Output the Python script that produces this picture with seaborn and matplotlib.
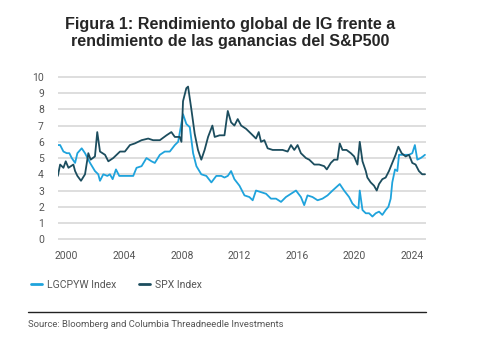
import matplotlib
matplotlib.use("Agg")
import matplotlib.pyplot as plt
import seaborn as sns
import pandas as pd
from matplotlib.lines import Line2D

spx_years = [1999.38, 1999.54, 1999.77, 1999.93, 2000.12, 2000.46, 2000.58, 2000.74, 2000.99, 2001.27,
             2001.50, 2001.66, 2001.96, 2002.12, 2002.31, 2002.66, 2002.89, 2003.23, 2003.70, 2004.04,
             2004.39, 2004.73, 2005.20, 2005.66, 2006.00, 2006.47, 2006.93, 2007.27, 2007.51, 2007.85,
             2007.97, 2008.08, 2008.31, 2008.43, 2008.66, 2008.89, 2009.12, 2009.35, 2009.58, 2009.82,
             2010.12, 2010.28, 2010.62, 2010.96, 2011.19, 2011.42, 2011.65, 2011.88, 2012.12, 2012.46,
             2012.81, 2013.15, 2013.34, 2013.50, 2013.73, 2013.96, 2014.31, 2014.66, 2015.00, 2015.35,
             2015.58, 2015.81, 2016.04, 2016.27, 2016.62, 2016.85, 2017.20, 2017.54, 2017.89, 2018.07,
             2018.35, 2018.58, 2018.81, 2018.97, 2019.16, 2019.44, 2019.74, 2019.97, 2020.20, 2020.36,
             2020.55, 2020.78, 2020.89, 2021.12, 2021.35, 2021.54, 2021.70, 2021.93, 2022.16, 2022.39,
             2022.62, 2022.85, 2023.04, 2023.27, 2023.55, 2023.78, 2024.01, 2024.24, 2024.47, 2024.70,
             2024.89]
spx_values = [3.9, 4.6, 4.4, 4.8, 4.4, 4.6, 4.2, 3.9, 3.6, 4.0,
              5.3, 4.9, 5.1, 6.6, 5.4, 5.2, 4.8, 5.0, 5.4, 5.4,
              5.8, 5.9, 6.1, 6.2, 6.1, 6.1, 6.4, 6.6, 6.3, 6.3,
              6.0, 8.5, 9.3, 9.4, 8.0, 6.5, 5.5, 4.9, 5.5, 6.3,
              7.0, 6.3, 6.4, 6.4, 7.9, 7.2, 7.0, 7.4, 7.0, 6.8,
              6.5, 6.2, 6.6, 6.0, 6.1, 5.6, 5.5, 5.5, 5.5, 5.4,
              5.8, 5.5, 5.8, 5.3, 5.0, 4.9, 4.6, 4.6, 4.5, 4.3,
              4.7, 4.9, 4.9, 5.9, 5.5, 5.5, 5.3, 5.1, 4.6, 6.0,
              4.8, 4.2, 3.8, 3.5, 3.3, 3.0, 3.4, 3.7, 3.8, 4.2,
              4.7, 5.2, 5.7, 5.3, 5.1, 5.2, 4.7, 4.6, 4.2, 4.0,
              4.0]

ig_years = [1999.38, 1999.54, 1999.77, 2000.00, 2000.18, 2000.35, 2000.58, 2000.74, 2001.04, 2001.27,
            2001.62, 2001.96, 2002.19, 2002.31, 2002.54, 2002.82, 2003.00, 2003.19, 2003.42, 2003.65,
            2004.04, 2004.39, 2004.62, 2004.85, 2005.20, 2005.54, 2005.89, 2006.12, 2006.47, 2006.81,
            2007.16, 2007.51, 2007.74, 2008.08, 2008.31, 2008.55, 2008.78, 2009.01, 2009.35, 2009.70,
            2010.05, 2010.39, 2010.74, 2010.96, 2011.19, 2011.42, 2011.65, 2012.00, 2012.35, 2012.69,
            2012.92, 2013.15, 2013.50, 2013.85, 2014.19, 2014.54, 2014.89, 2015.23, 2015.58, 2015.93,
            2016.27, 2016.50, 2016.73, 2017.08, 2017.43, 2017.77, 2018.12, 2018.47, 2018.97, 2019.27,
            2019.62, 2019.85, 2020.08, 2020.27, 2020.36, 2020.55, 2020.78, 2021.01, 2021.24, 2021.47,
            2021.70, 2021.93, 2022.16, 2022.35, 2022.51, 2022.62, 2022.81, 2022.97, 2023.09, 2023.32,
            2023.55, 2023.78, 2024.01, 2024.19, 2024.36, 2024.59, 2024.75, 2024.89]
ig_values = [5.8, 5.8, 5.4, 5.3, 5.3, 5.0, 4.7, 5.3, 5.6, 5.3,
             4.7, 4.2, 4.0, 3.6, 4.0, 3.9, 4.0, 3.7, 4.3, 3.9,
             3.9, 3.9, 3.9, 4.4, 4.5, 5.0, 4.8, 4.7, 5.2, 5.4,
             5.4, 5.8, 6.0, 7.7, 7.1, 6.9, 5.3, 4.5, 4.0, 3.9,
             3.5, 3.9, 3.9, 3.8, 3.9, 4.2, 3.7, 3.3, 2.7, 2.6,
             2.4, 3.0, 2.9, 2.8, 2.5, 2.5, 2.3, 2.6, 2.8, 3.0,
             2.6, 2.1, 2.7, 2.6, 2.4, 2.5, 2.7, 3.0, 3.4, 3.0,
             2.6, 2.2, 2.0, 1.9, 3.0, 1.8, 1.6, 1.6, 1.4, 1.6,
             1.7, 1.5, 1.8, 2.0, 2.5, 3.5, 4.3, 4.2, 5.2, 5.2,
             5.2, 5.2, 5.3, 5.8, 4.9, 5.0, 5.1, 5.2]

series_names = ["LGCPYW Index", "SPX Index"]
x_ticks = [2000, 2004, 2008, 2012, 2016, 2020, 2024]
y_ticks = list(range(0, 11))

title = "Figura 1: Rendimiento global de IG frente a\nrendimiento de las ganancias del S&P500"
source = "Source: Bloomberg and Columbia Threadneedle Investments"

light = "#1fa3dc"
dark = "#1c4d5e"

df = pd.concat([
    pd.DataFrame({"year": ig_years, "value": ig_values, "series": series_names[0]}),
    pd.DataFrame({"year": spx_years, "value": spx_values, "series": series_names[1]}),
])

sns.set_style("white")
plt.rcParams["font.family"] = ["Roboto", "DejaVu Sans"]

fig = plt.figure(figsize=(4.9, 3.41), dpi=100)
ax = fig.add_axes([0.118, 0.296, 0.751, 0.481])

sns.lineplot(data=df, x="year", y="value", hue="series",
             palette={series_names[0]: light, series_names[1]: dark},
             linewidth=1.3, ax=ax, legend=False, sort=True, estimator=None)

ax.set_xlim(1999.38, 2024.95)
ax.set_ylim(-0.05, 10.05)
ax.set_xticks(x_ticks)
ax.set_yticks(y_ticks)
ax.grid(axis="y", color="#d4d4d4", linewidth=1.1)
ax.grid(axis="x", visible=False)
ax.set_axisbelow(True)
for s in ax.spines.values():
    s.set_visible(False)
ax.tick_params(axis="both", length=0, labelsize=7.5, labelcolor="#555555")
ax.tick_params(axis="y", pad=10)
ax.tick_params(axis="x", pad=8)
ax.set_xlabel("")
ax.set_ylabel("")

fig.text(0.47, 0.95, title, ha="center", va="top", fontsize=11.6, fontweight="bold",
         family=["Liberation Sans", "DejaVu Sans"], linespacing=1.2)

handles = [Line2D([], [], color=light, linewidth=2),
           Line2D([], [], color=dark, linewidth=2)]
fig.legend(handles, series_names, loc="center left", bbox_to_anchor=(0.045, 0.165),
           ncol=2, frameon=False, fontsize=7.5, handlelength=1.0, handletextpad=0.5,
           columnspacing=2.2, labelcolor="#555555")

fig.add_artist(Line2D([0.057, 0.869], [0.085, 0.085], color="#222222", linewidth=1.0,
                      transform=fig.transFigure))
fig.text(0.057, 0.047, source, ha="left", va="center", fontsize=6.8, color="#555555")

fig.savefig("out.png", dpi=100)
